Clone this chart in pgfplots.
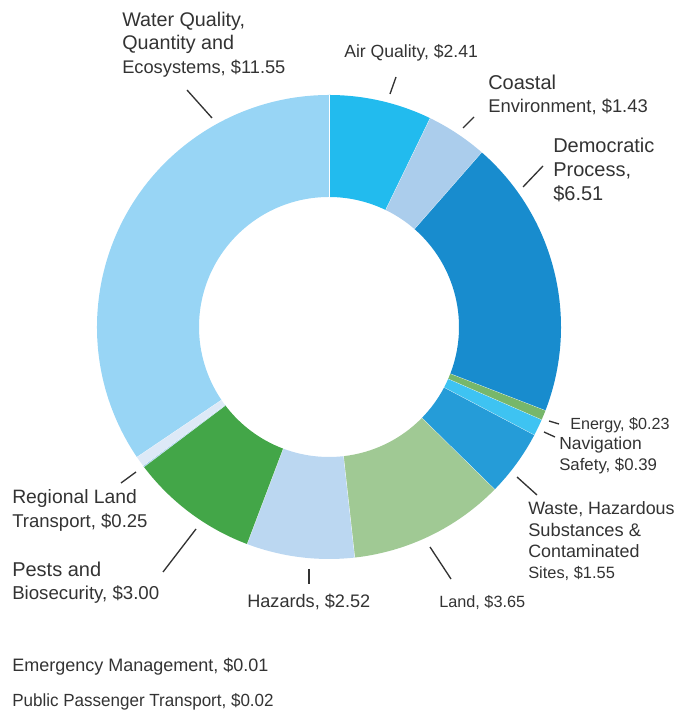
\documentclass[border=0pt]{standalone}
\usepackage{pgfplots}
\pgfplotsset{compat=1.18}
\usepackage{fontspec}
\setmainfont{Liberation Sans}

\definecolor{cAir}{HTML}{22BBEE}
\definecolor{cCoast}{HTML}{ABCDEC}
\definecolor{cDemo}{HTML}{188CCE}
\definecolor{cEnergy}{HTML}{77B76A}
\definecolor{cNav}{HTML}{3EC3F2}
\definecolor{cWaste}{HTML}{259CD8}
\definecolor{cLand}{HTML}{A0C994}
\definecolor{cHaz}{HTML}{BBD7F1}
\definecolor{cPests}{HTML}{43A648}
\definecolor{cEmerg}{HTML}{2E7FC0}
\definecolor{cPublic}{HTML}{7FC6E8}
\definecolor{cRegion}{HTML}{DDE9F7}
\definecolor{cWater}{HTML}{98D5F5}
\definecolor{txt}{HTML}{333333}

% spending per activity, clockwise from 12 o'clock
\newcommand{\slices}{2.41/cAir, 1.43/cCoast, 6.51/cDemo, 0.23/cEnergy,
  0.39/cNav, 1.55/cWaste, 3.65/cLand, 2.52/cHaz, 3.00/cPests,
  0.01/cEmerg, 0.02/cPublic, 0.25/cRegion, 11.55/cWater}

\newcommand{\lab}[2]{\fontsize{#1}{#1}\selectfont #2}

\begin{document}
\begin{tikzpicture}
\begin{axis}[
  x=0.75pt, y=0.75pt, scale only axis,
  xmin=0, xmax=678, ymin=0, ymax=712,
  hide axis, clip=false,
]
\path (axis cs:0,0) rectangle (axis cs:678,712);
\pgfplotsextra{
  \gdef\total{0}
  \foreach \v/\c in \slices {\pgfmathsetmacro\t{\total+\v}\xdef\total{\t}}
  \gdef\cum{0}
  \foreach \v/\c in \slices {
    \pgfmathsetmacro\aS{90-\cum/\total*360}
    \pgfmathsetmacro\t{\cum+\v}\xdef\cum{\t}
    \pgfmathsetmacro\aE{90-\cum/\total*360}
    \fill[\c] (axis cs:{329+232*cos(\aS)},{385+232*sin(\aS)})
      arc[start angle=\aS, end angle=\aE, radius=174pt]
      -- (axis cs:{329+130*cos(\aE)},{385+130*sin(\aE)})
      arc[start angle=\aE, end angle=\aS, radius=97.5pt] -- cycle;
    \draw[white, line width=0.5pt] (axis cs:{329+130*cos(\aE)},{385+130*sin(\aE)})
      -- (axis cs:{329+232*cos(\aE)},{385+232*sin(\aE)});
  }
}

% leader lines
\begin{scope}[txt, line width=1pt]
\draw (axis cs:187,622) -- (axis cs:212,594);
\draw (axis cs:396,635) -- (axis cs:390,618);
\draw (axis cs:474,595) -- (axis cs:463,584);
\draw (axis cs:543,546) -- (axis cs:523,525);
\draw (axis cs:549,291) -- (axis cs:559,288);
\draw (axis cs:544,280) -- (axis cs:555,275);
\draw (axis cs:517,235) -- (axis cs:537,217);
\draw (axis cs:430,165) -- (axis cs:451,133);
\draw (axis cs:309,143) -- (axis cs:309,128);
\draw (axis cs:196,183) -- (axis cs:163,140);
\draw (axis cs:136,240) -- (axis cs:121,229);
\end{scope}

% labels
\begin{scope}[every node/.style={anchor=base west, inner sep=0pt, text=txt}]
\node at (axis cs:122,685) {\lab{14.8}{Water Quality,}};
\node at (axis cs:122,662) {\lab{14.8}{Quantity and}};
\node at (axis cs:122,638) {\lab{13.7}{Ecosystems, \$11.55}};
\node at (axis cs:344,654) {\lab{13.2}{Air Quality, \$2.41}};
\node at (axis cs:488,622) {\lab{15}{Coastal}};
\node at (axis cs:488,599) {\lab{13.8}{Environment, \$1.43}};
\node at (axis cs:553,559) {\lab{15}{Democratic}};
\node at (axis cs:553,535) {\lab{15}{Process,}};
\node at (axis cs:553,511) {\lab{15}{\$6.51}};
\node at (axis cs:570,282) {\lab{12.1}{Energy, \$0.23}};
\node at (axis cs:559,262) {\lab{13.1}{Navigation}};
\node at (axis cs:559,241) {\lab{12.6}{Safety, \$0.39}};
\node at (axis cs:528,197) {\lab{13.4}{Waste, Hazardous}};
\node at (axis cs:528,175) {\lab{13.7}{Substances \&}};
\node at (axis cs:528,154) {\lab{13.4}{Contaminated}};
\node at (axis cs:528,133) {\lab{12.3}{Sites, \$1.55}};
\node at (axis cs:439,104) {\lab{12.2}{Land, \$3.65}};
\node at (axis cs:247,104) {\lab{13.6}{Hazards, \$2.52}};
\node at (axis cs:12,208) {\lab{14.5}{Regional Land}};
\node at (axis cs:12,184) {\lab{13.9}{Transport, \$0.25}};
\node at (axis cs:12,135) {\lab{15}{Pests and}};
\node at (axis cs:12,112) {\lab{14}{Biosecurity, \$3.00}};
\node at (axis cs:12,40) {\lab{13.5}{Emergency Management, \$0.01}};
\node[xscale=0.967] at (axis cs:12,6) {\lab{13.2}{Public Passenger Transport, \$0.02}};
\end{scope}
\end{axis}
\end{tikzpicture}
\end{document}
